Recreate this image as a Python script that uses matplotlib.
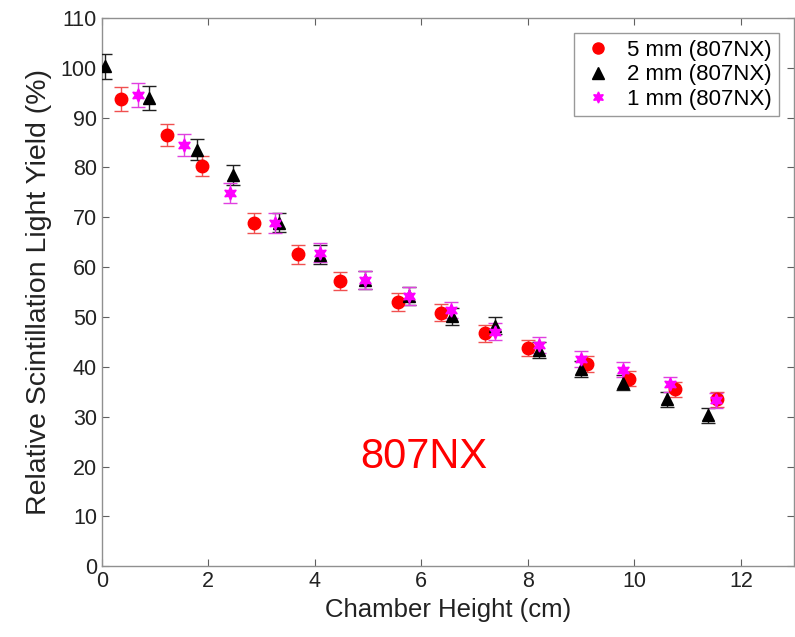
import matplotlib
matplotlib.use("Agg")
import matplotlib.pyplot as plt
from matplotlib.lines import Line2D

plt.rcParams['font.family'] = ['Liberation Sans', 'DejaVu Sans']

# 5 mm (807NX)
x5 = [0.36, 1.22, 1.88, 2.85, 3.68, 4.48, 5.56, 6.36, 7.20, 8.00, 9.11, 9.89, 10.76, 11.55]
y5 = [93.8, 86.5, 80.3, 68.9, 62.6, 57.3, 53.1, 50.9, 46.7, 43.8, 40.6, 37.6, 35.5, 33.5]
e5 = [2.4, 2.3, 2.0, 2.0, 1.9, 1.8, 1.8, 1.7, 1.7, 1.6, 1.6, 1.5, 1.5, 1.5]

# 2 mm (807NX)
x2 = [0.06, 0.89, 1.78, 2.46, 3.33, 4.09, 4.94, 5.76, 6.58, 7.39, 8.20, 9.00, 9.79, 10.62, 11.39]
y2 = [100.3, 94.0, 83.5, 78.4, 68.9, 62.5, 57.4, 54.3, 50.1, 48.2, 43.4, 39.5, 36.8, 33.5, 30.3]
e2 = [2.5, 2.4, 2.1, 2.0, 1.9, 1.9, 1.8, 1.8, 1.7, 1.7, 1.6, 1.6, 1.5, 1.5, 1.5]

# 1 mm (807NX)
x1 = [0.68, 1.55, 2.40, 3.25, 4.09, 4.94, 5.76, 6.56, 7.39, 8.20, 9.00, 9.79, 10.67, 11.53]
y1 = [94.6, 84.5, 74.8, 68.9, 62.9, 57.4, 54.2, 51.4, 47.0, 44.4, 41.5, 39.4, 36.5, 33.3]
e1 = [2.4, 2.3, 2.0, 2.0, 1.9, 1.8, 1.8, 1.7, 1.7, 1.6, 1.6, 1.5, 1.5, 1.5]

xticks = [0, 2, 4, 6, 8, 10, 12]
yticks = [0, 10, 20, 30, 40, 50, 60, 70, 80, 90, 100, 110]

fig = plt.figure(figsize=(7.95, 6.37), dpi=100)
ax = fig.add_axes([0.128, 0.111, 0.871, 0.861])

ax.errorbar(x5, y5, yerr=e5, fmt='o', color='#ff0000', ecolor='#f05050', ms=9,
            capsize=5, elinewidth=1, capthick=1, zorder=3)
ax.errorbar(x2, y2, yerr=e2, fmt='^', color='black', ecolor='#202020', ms=9,
            capsize=5, elinewidth=1, capthick=1, zorder=3)
ax.errorbar(x1, y1, yerr=e1, fmt='none', ecolor='#e040e0',
            capsize=5, elinewidth=1, capthick=1, zorder=3)
ax.plot(x1, y1, linestyle='none', marker=(6, 1, 0), color='#ff00ff', ms=9.5, zorder=4)

ax.set_xlim(0, 13)
ax.set_ylim(0, 110)
ax.set_xticks(xticks)
ax.set_yticks(yticks)
ax.tick_params(direction='in', length=5, width=0.8, color='#606060',
               labelsize=15.5, top=True, right=True, labelcolor='#222222')
for s in ax.spines.values():
    s.set_color('#909090')
    s.set_linewidth(1.0)

ax.set_xlabel('Chamber Height (cm)', fontsize=18.5, color='#222222', labelpad=4)
ax.set_ylabel('Relative Scintillation Light Yield (%)', fontsize=20.5, color='#222222', labelpad=6)

h = [Line2D([], [], ls='none', marker='o', color='#ff0000', ms=8),
     Line2D([], [], ls='none', marker='^', color='black', ms=8),
     Line2D([], [], ls='none', marker=(6, 1, 0), color='#ff00ff', ms=8)]
leg = ax.legend(h, ['5 mm (807NX)', '2 mm (807NX)', '1 mm (807NX)'],
                loc='upper right', fontsize=16, frameon=True, fancybox=False,
                edgecolor='#808080', handletextpad=0.5, borderpad=0.3,
                labelspacing=0.15, bbox_to_anchor=(1.0, 1.0), borderaxespad=0.7,
                handlelength=1.6)
leg.get_frame().set_linewidth(1.0)

ax.text(0.465, 0.199, '807NX', transform=ax.transAxes, color='#ff0000',
        fontsize=30, ha='center', va='center')

fig.savefig('out.png', dpi=100)
